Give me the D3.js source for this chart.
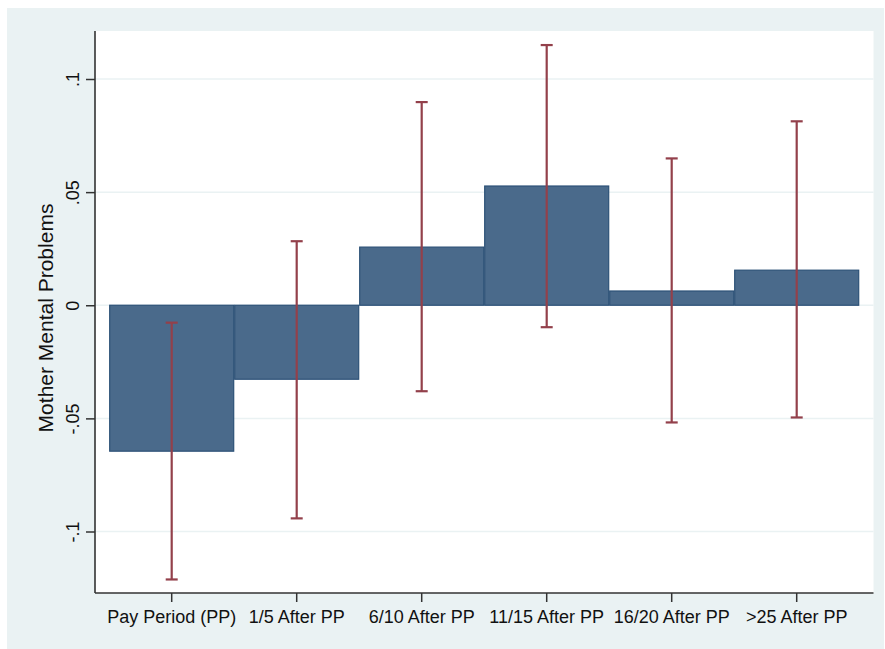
<!DOCTYPE html>
<html>
<head>
<meta charset="utf-8">
<script src="https://cdn.jsdelivr.net/npm/d3@7"></script>
<style>
  html, body { margin: 0; padding: 0; background: #ffffff; }
  svg { display: block; font-family: "Liberation Sans", Arial, sans-serif; }
</style>
</head>
<body>
<script>
// ---- data ----
const categories = ["Pay Period (PP)", "1/5 After PP", "6/10 After PP", "11/15 After PP", "16/20 After PP", ">25 After PP"];
const coef  = [-0.0645, -0.0327, 0.0257, 0.0527, 0.0063, 0.0155];
const lower = [-0.1212, -0.0942, -0.0380, -0.0097, -0.0518, -0.0496];
const upper = [-0.0077, 0.0283, 0.0898, 0.1150, 0.0649, 0.0813];
const yTicks = [-0.1, -0.05, 0, 0.05, 0.1];
const yTickLabels = ["-.1", "-.05", "0", ".05", ".1"];
const yTitle = "Mother Mental Problems";

const W = 885, H = 649;
const plot = { left: 95, right: 873.5, top: 31, bottom: 593 };

const svg = d3.select("body").append("svg").attr("width", W).attr("height", H);

// outer graph region
svg.append("rect").attr("x", 7).attr("y", 8).attr("width", 877).attr("height", 641).attr("fill", "#EAF2F3");
// plot region
svg.append("rect").attr("x", plot.left).attr("y", plot.top)
  .attr("width", plot.right - plot.left).attr("height", plot.bottom - plot.top).attr("fill", "#ffffff");

const x = d3.scaleBand().domain(categories).range([109.2, 859.2]).padding(0);
const y = d3.scaleLinear().domain([-0.1, 0.1]).range([531.5, 79]);

// gridlines
svg.append("g").selectAll("line").data(yTicks).join("line")
  .attr("x1", plot.left).attr("x2", plot.right)
  .attr("y1", d => y(d)).attr("y2", d => y(d))
  .attr("stroke", "#EAF2F3").attr("stroke-width", 1.5);

const rows = categories.map((c, i) => ({ c, v: coef[i], lo: lower[i], hi: upper[i] }));

// bars
svg.append("g").selectAll("rect").data(rows).join("rect")
  .attr("x", d => x(d.c) + 0.5)
  .attr("width", x.bandwidth() - 1)
  .attr("y", d => Math.min(y(d.v), y(0)))
  .attr("height", d => Math.abs(y(d.v) - y(0)))
  .attr("fill", "#4A6A8B")
  .attr("stroke", "#2C5177").attr("stroke-width", 1.2);

// error bars
const eb = svg.append("g").attr("stroke", "#93404B").attr("stroke-width", 2.2).attr("fill", "none");
const cx = d => x(d.c) + x.bandwidth() / 2;
eb.selectAll("line.v").data(rows).join("line").attr("class", "v")
  .attr("x1", cx).attr("x2", cx).attr("y1", d => y(d.lo)).attr("y2", d => y(d.hi));
eb.selectAll("line.t").data(rows).join("line").attr("class", "t")
  .attr("x1", d => cx(d) - 6).attr("x2", d => cx(d) + 6).attr("y1", d => y(d.hi)).attr("y2", d => y(d.hi));
eb.selectAll("line.b").data(rows).join("line").attr("class", "b")
  .attr("x1", d => cx(d) - 6).attr("x2", d => cx(d) + 6).attr("y1", d => y(d.lo)).attr("y2", d => y(d.lo));

// y axis
const yAxis = d3.axisLeft(y).tickValues(yTicks).tickFormat((d, i) => yTickLabels[i]).tickSize(9).tickPadding(7);
const gy = svg.append("g").attr("transform", `translate(${plot.left},0)`).call(yAxis);
gy.select(".domain").remove();
gy.selectAll(".tick line").attr("stroke", "#333").attr("stroke-width", 1.5);
gy.selectAll(".tick text")
  .attr("font-size", 18).attr("fill", "#111")
  .attr("x", null).attr("dy", null)
  .attr("text-anchor", "middle")
  .attr("transform", "translate(-16,0) rotate(-90)")
  .attr("y", 0);
svg.append("line").attr("x1", plot.left).attr("x2", plot.left).attr("y1", plot.top).attr("y2", plot.bottom)
  .attr("stroke", "#333").attr("stroke-width", 1.6);

// x axis
const xAxis = d3.axisBottom(x).tickSize(9).tickPadding(8);
const gx = svg.append("g").attr("transform", `translate(0,${plot.bottom})`).call(xAxis);
gx.select(".domain").remove();
gx.selectAll(".tick line").attr("stroke", "#333").attr("stroke-width", 1.5);
gx.selectAll(".tick text").attr("font-size", 18).attr("fill", "#111");
svg.append("line").attr("x1", plot.left).attr("x2", plot.right).attr("y1", plot.bottom).attr("y2", plot.bottom)
  .attr("stroke", "#333").attr("stroke-width", 1.6);

// y title
svg.append("text")
  .attr("transform", `translate(53,${(plot.top + plot.bottom) / 2 + 6}) rotate(-90)`)
  .attr("text-anchor", "middle")
  .attr("font-size", 21).attr("fill", "#111")
  .text(yTitle);
</script>
</body>
</html>
